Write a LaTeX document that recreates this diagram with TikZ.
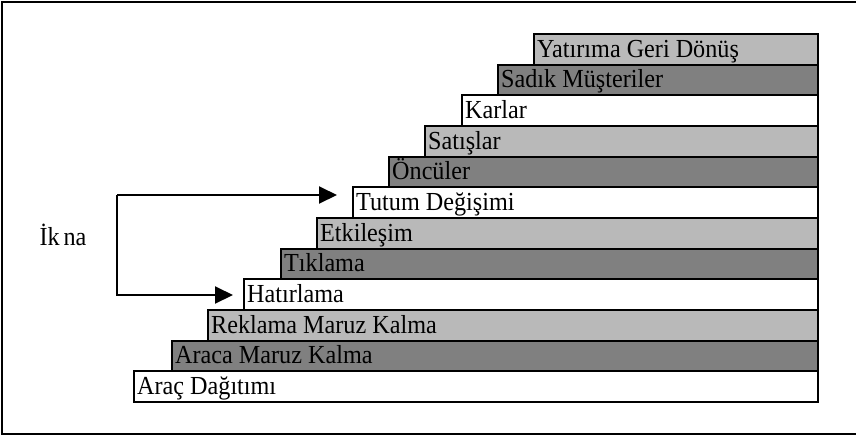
\documentclass[tikz,border=0pt]{standalone}
\usepackage{fontspec}
\setmainfont[FakeStretch=0.93]{Liberation Serif}
\usetikzlibrary{arrows.meta}
\definecolor{lightrow}{RGB}{185,185,185}
\definecolor{darkrow}{RGB}{128,128,128}
\tikzset{
  rowbox/.style={draw=black, line width=1.9pt, rectangle, anchor=north west,
    minimum height=30.67pt, inner sep=0pt},
  rowtext/.style={anchor=base west, inner sep=0pt, font=\fontsize{26}{26}\selectfont},
  arr/.style={line width=2pt, -{Triangle[length=18pt,width=17pt]}},
}
\begin{document}
\begin{tikzpicture}[x=1pt,y=-1pt]
\useasboundingbox (0,0) rectangle (856,437);
\clip (0,0) rectangle (856,437);
\draw[line width=2pt] (2,2) rectangle (860,434);
\foreach \i/\lft/\col/\txt in {
  0/533/lightrow/{Yatırıma Geri Dönüş},
  1/497/darkrow/{Sadık Müşteriler},
  2/461/white/{Karlar},
  3/424/lightrow/{Satışlar},
  4/388/darkrow/{Öncüler},
  5/352/white/{Tutum Değişimi},
  6/316/lightrow/{Etkileşim},
  7/280/darkrow/{Tıklama},
  8/243/white/{Hatırlama},
  9/207/lightrow/{Reklama Maruz Kalma},
  10/171/darkrow/{Araca Maruz Kalma},
  11/133/white/{Araç Dağıtımı}}{
  \pgfmathsetmacro{\rtop}{33+30.67*\i}
  \pgfmathsetmacro{\bwid}{817-\lft}
  \node[rowbox, fill=\col, minimum width=\bwid pt] (r\i) at (\lft,\rtop) {};
  \node[rowtext] (t\i) at (\lft+4,\rtop+24) {\txt};
}
\node[font=\fontsize{26}{26}\selectfont, inner sep=0pt] (ikna) at (63,235) {İk\hspace{4pt}na};
\coordinate (ct) at (117,195);
\coordinate (cb) at (117,295);
\draw[arr] (ct) -- ([xshift=-15pt]r5.west |- ct);
\draw[arr] (ct) -- (cb) -- ([xshift=-10pt]r8.west |- cb);
\end{tikzpicture}
\end{document}
